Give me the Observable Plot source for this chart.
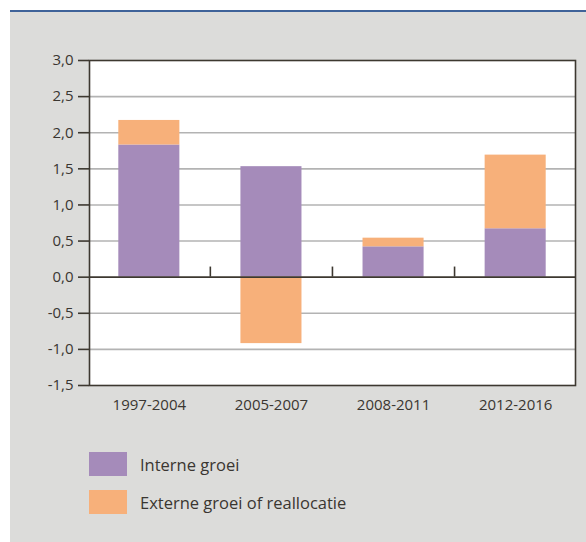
<!DOCTYPE html>
<html>
<head>
<meta charset="utf-8">
<script src="https://cdn.jsdelivr.net/npm/d3@7"></script>
<script src="https://cdn.jsdelivr.net/npm/@observablehq/plot@0.6"></script>
<style>
  html, body { margin: 0; padding: 0; background: #ffffff; }
  body { width: 586px; height: 542px; position: relative; overflow: hidden; font-family: "Open Sans", sans-serif; }
  #topline { position: absolute; left: 10px; top: 10px; width: 576px; height: 2px; background: #3f6399; }
  #panel { position: absolute; left: 10px; top: 12px; width: 576px; height: 530px; background: #dcdcda; }
  #chart svg { display: block; }
  #legend { position: absolute; left: 79px; top: 440px; }
  .item { display: flex; align-items: center; height: 24px; margin-bottom: 14px; }
  .sw { width: 38px; height: 24px; margin-right: 13px; }
  .lab { font-size: 16.5px; color: #3a3631; }
</style>
</head>
<body>
<div id="topline"></div>
<div id="panel">
  <div id="chart"></div>
  <div id="legend"></div>
</div>
<script>
const periods = ["1997-2004", "2005-2007", "2008-2011", "2012-2016"];
const series = ["Interne groei", "Externe groei of reallocatie"];
const interne = [1.83, 1.53, 0.42, 0.67];
const externe = [0.34, -0.92, 0.12, 1.02];
const yTicks = [-1.5, -1.0, -0.5, 0.0, 0.5, 1.0, 1.5, 2.0, 2.5, 3.0];
const colors = ["#a58bba", "#f7b07a"];

const data = [];
periods.forEach((p, i) => {
  data.push({period: p, series: series[0], value: interne[i]});
  data.push({period: p, series: series[1], value: externe[i]});
});

const fmt = d => (d < 0 ? "-" : "") + Math.abs(d).toFixed(1).replace(".", ",");
const ink = "#3d3830";

const chart = Plot.plot({
  width: 576,
  height: 413,
  marginLeft: 79,
  marginRight: 11,
  marginTop: 48,
  marginBottom: 40,
  style: {background: "transparent", fontFamily: "'Open Sans', sans-serif", fontSize: "15px", color: "#3a3631"},
  x: {domain: periods, paddingInner: 0.5, paddingOuter: 0.24, round: false, label: null},
  y: {domain: [-1.5, 3.0], label: null},
  color: {domain: series, range: colors},
  marks: [
    Plot.frame({fill: "#ffffff", stroke: "none"}),
    Plot.ruleY(yTicks.filter(d => d !== 0 && d !== 3 && d !== -1.5), {stroke: "#b3b3b3", strokeWidth: 1.6}),
    Plot.barY(data, {x: "period", y: "value", fill: "series", order: series}),
    Plot.ruleY([0], {stroke: ink, strokeWidth: 1.6}),
    Plot.ruleX(periods.slice(0, 3), {x: d => d, y1: 0, y2: 0.14, dx: 61, stroke: ink, strokeWidth: 1.6}),
    Plot.frame({stroke: ink, strokeWidth: 1.6}),
    Plot.axisY({ticks: yTicks, tickFormat: fmt, tickSize: 11, tickPadding: 5, stroke: ink, strokeWidth: 1.6, fill: "#3a3631"}),
    Plot.axisX({tickSize: 0, tickPadding: 14, fill: "#3a3631"})
  ]
});
document.getElementById("chart").appendChild(chart);

const legend = document.getElementById("legend");
series.forEach((s, i) => {
  const it = document.createElement("div");
  it.className = "item";
  const sw = document.createElement("div");
  sw.className = "sw";
  sw.style.background = colors[i];
  const lab = document.createElement("span");
  lab.className = "lab";
  lab.textContent = s;
  it.appendChild(sw);
  it.appendChild(lab);
  legend.appendChild(it);
});
</script>
</body>
</html>
